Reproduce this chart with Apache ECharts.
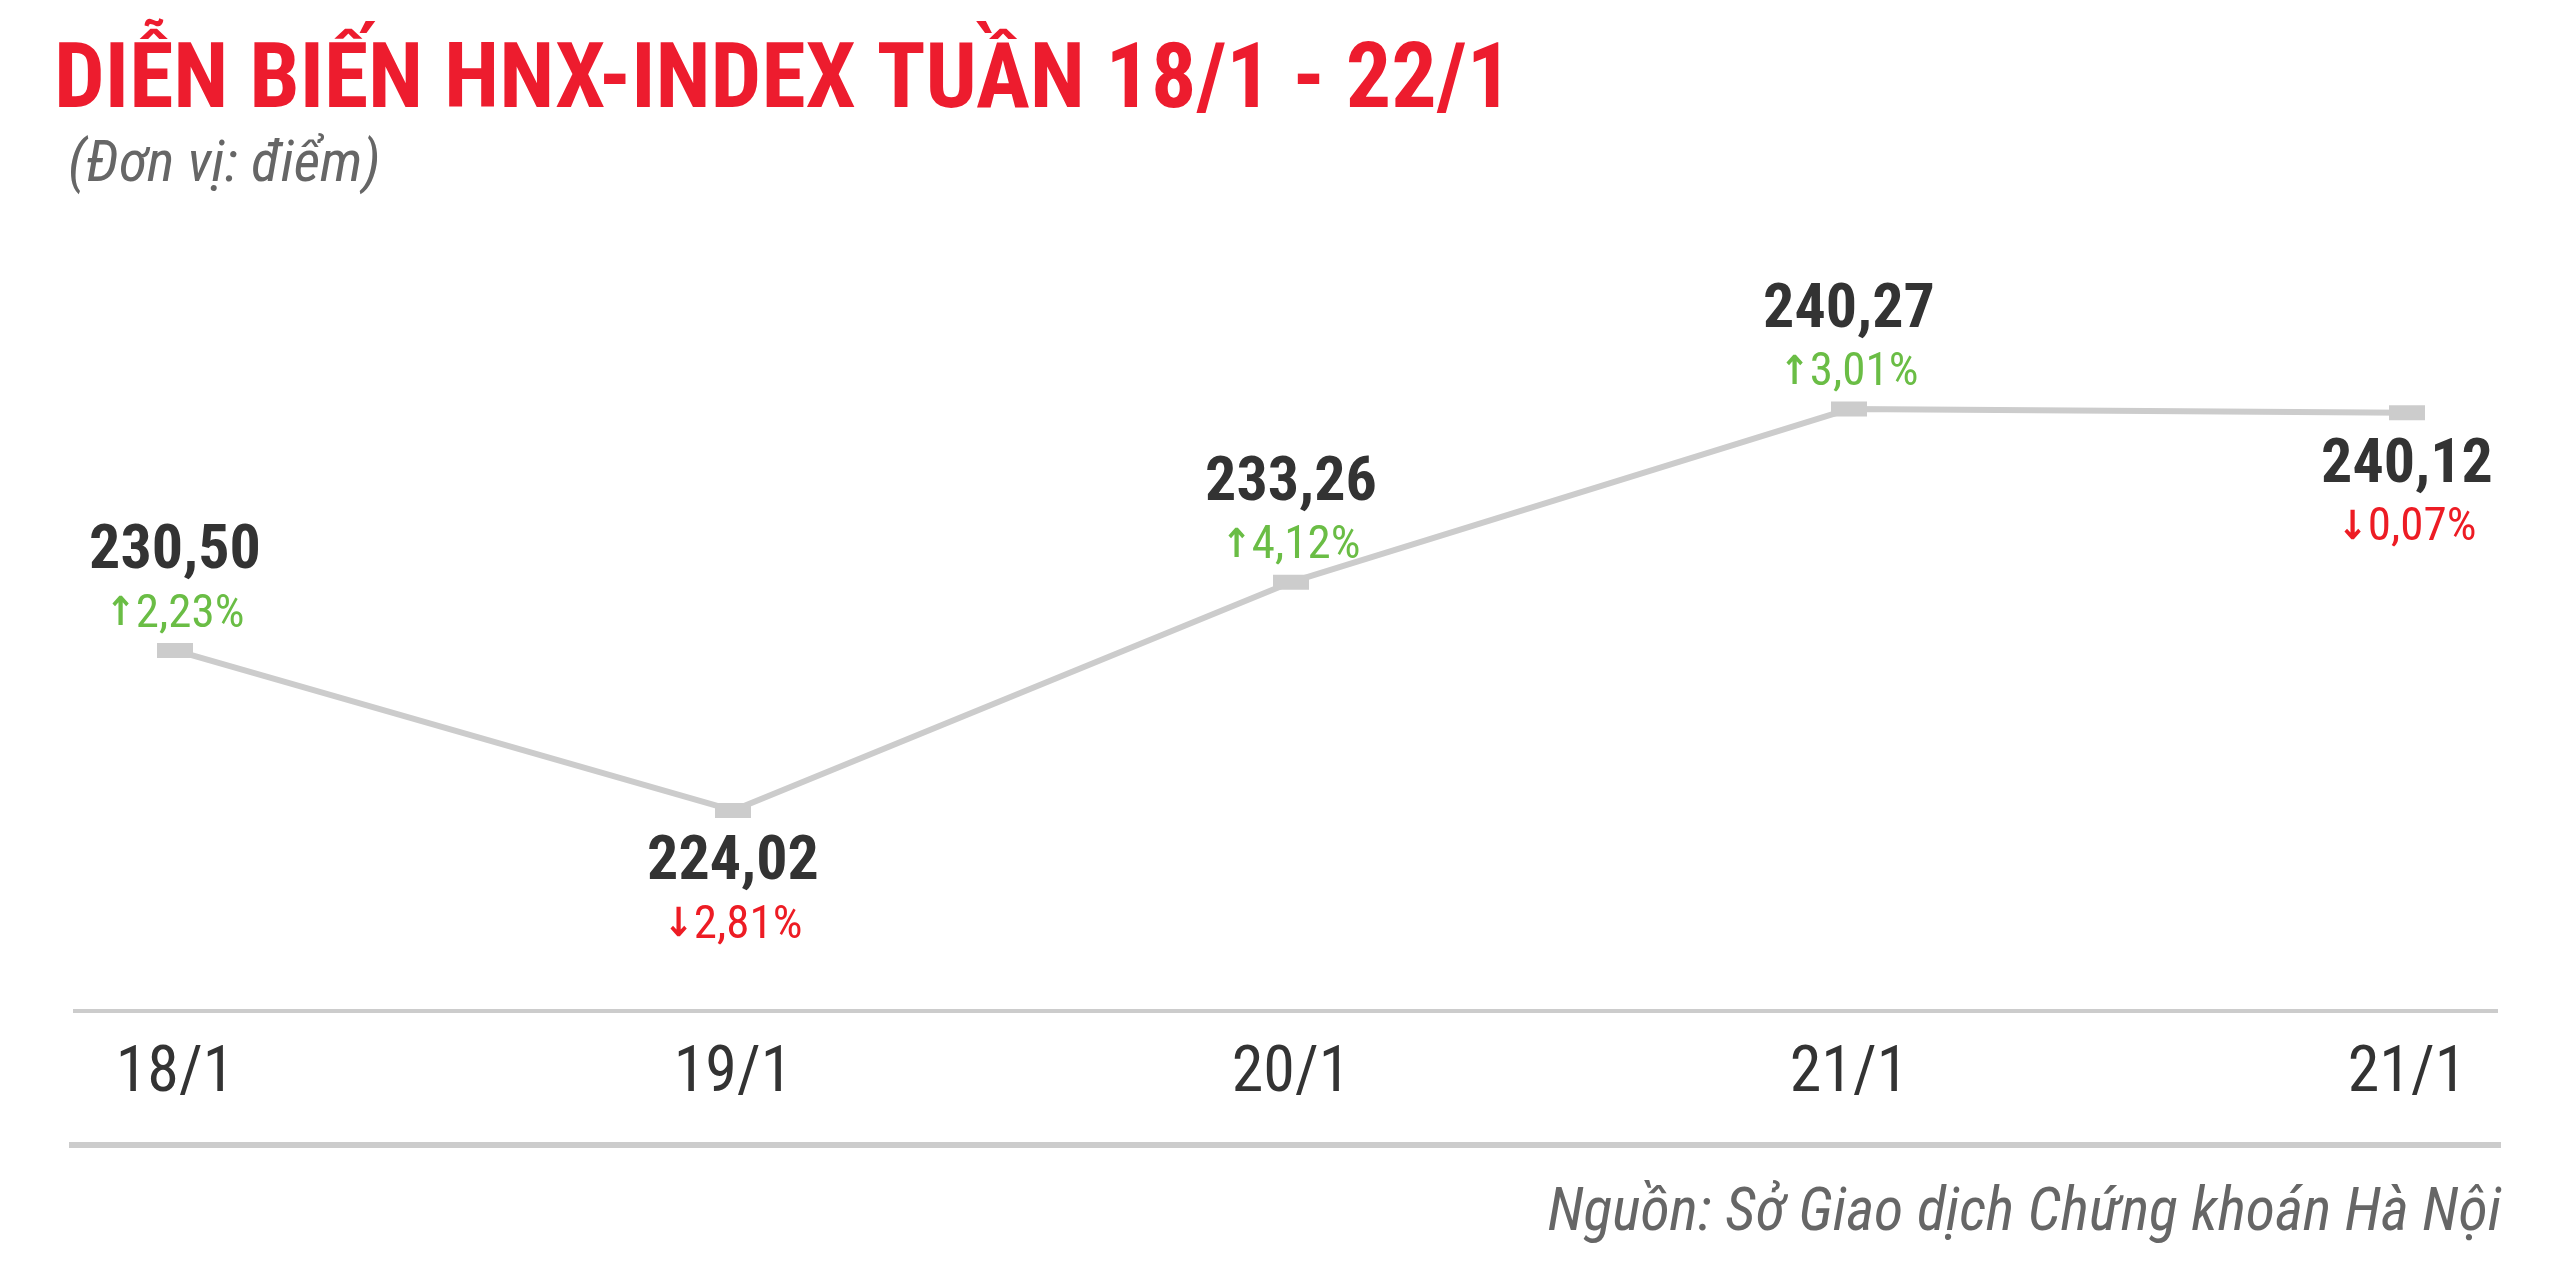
<!DOCTYPE html>
<html><head><meta charset="utf-8">
<script src="https://cdn.jsdelivr.net/npm/echarts@6/dist/echarts.min.js"></script>
<style>html,body{margin:0;padding:0;background:#fff}#c{width:2560px;height:1261px}</style>
</head><body><div id="c"></div>
<script>
const categories = ['18/1', '19/1', '20/1', '21/1', '21/1'];
const values = [230.50, 224.02, 233.26, 240.27, 240.12];
const changes = [2.23, -2.81, 4.12, 3.01, -0.07];
const titleText = 'DIỄN BIẾN HNX-INDEX TUẦN 18/1 - 22/1';
const unitText = '(Đơn vị: điểm)';
const sourceText = 'Nguồn: Sở Giao dịch Chứng khoán Hà Nội';

const FONT = "'Roboto Condensed','Liberation Sans Narrow','Arial Narrow',Roboto,sans-serif";
const fmt = (x) => Math.abs(x).toFixed(2).replace('.', ',');

const chart = echarts.init(document.getElementById('c'), null, {renderer: 'canvas'});
chart.setOption({
  backgroundColor: '#ffffff',
  animation: false,
  title: [
    {text: titleText, left: 54, top: 39, padding: 0,
     textStyle: {fontFamily: FONT, fontSize: 90, fontWeight: 'bold', color: '#ED1C2E', lineHeight: 90}},
    {text: unitText, left: 68, top: 137, padding: 0,
     textStyle: {fontFamily: FONT, fontSize: 58, fontStyle: 'italic', fontWeight: 'normal', color: '#666666', lineHeight: 58}},
    {text: sourceText, right: 59, top: 1185, padding: 0,
     textStyle: {fontFamily: FONT, fontSize: 60, fontStyle: 'italic', fontWeight: 'normal', color: '#666666', lineHeight: 60}}
  ],
  grid: {left: 175, right: 153, top: 270, bottom: 250, containLabel: false},
  xAxis: {
    type: 'category', data: categories, boundaryGap: false,
    axisLine: {show: false}, axisTick: {show: false}, splitLine: {show: false},
    axisLabel: {fontFamily: FONT, fontSize: 64, color: '#333333', margin: 32, interval: 0}
  },
  yAxis: {type: 'value', min: 215.9, max: 245.9, show: false},
  graphic: [
    {type: 'rect', shape: {x: 73, y: 1009, width: 2425, height: 4}, style: {fill: '#CCCCCC'}, silent: true},
    {type: 'rect', shape: {x: 69, y: 1142, width: 2432, height: 6}, style: {fill: '#CCCCCC'}, silent: true}
  ],
  series: [{
    type: 'line',
    data: values.map((v, i) => ({
      value: v,
      label: changes[i] >= 0 ? {position: 'top', distance: -3} : {position: 'bottom', distance: 15}
    })),
    symbol: 'rect', symbolSize: [36, 15],
    itemStyle: {color: '#CCCCCC'},
    lineStyle: {color: '#CCCCCC', width: 6},
    label: {
      show: true,
      formatter: (p) => {
        const c = changes[p.dataIndex];
        return '{v|' + fmt(p.value) + '}\n' + (c >= 0 ? '{ua|↑}{up|' + fmt(c) + '%}' : '{da|↓}{dn|' + fmt(c) + '%}');
      },
      rich: {
        v: {fontFamily: FONT, fontSize: 62, fontWeight: 'bold', color: '#333333', lineHeight: 62, align: 'center'},
        ua: {fontFamily: "'DejaVu Sans Condensed','DejaVu Sans',sans-serif", fontWeight: 'bold', fontSize: 40, color: '#6ABD45', lineHeight: 62},
        da: {fontFamily: "'DejaVu Sans Condensed','DejaVu Sans',sans-serif", fontWeight: 'bold', fontSize: 40, color: '#ED1C24', lineHeight: 62},
        up: {fontFamily: FONT, fontSize: 47, color: '#6ABD45', lineHeight: 62},
        dn: {fontFamily: FONT, fontSize: 47, color: '#ED1C24', lineHeight: 62}
      }
    }
  }]
});
</script></body></html>
